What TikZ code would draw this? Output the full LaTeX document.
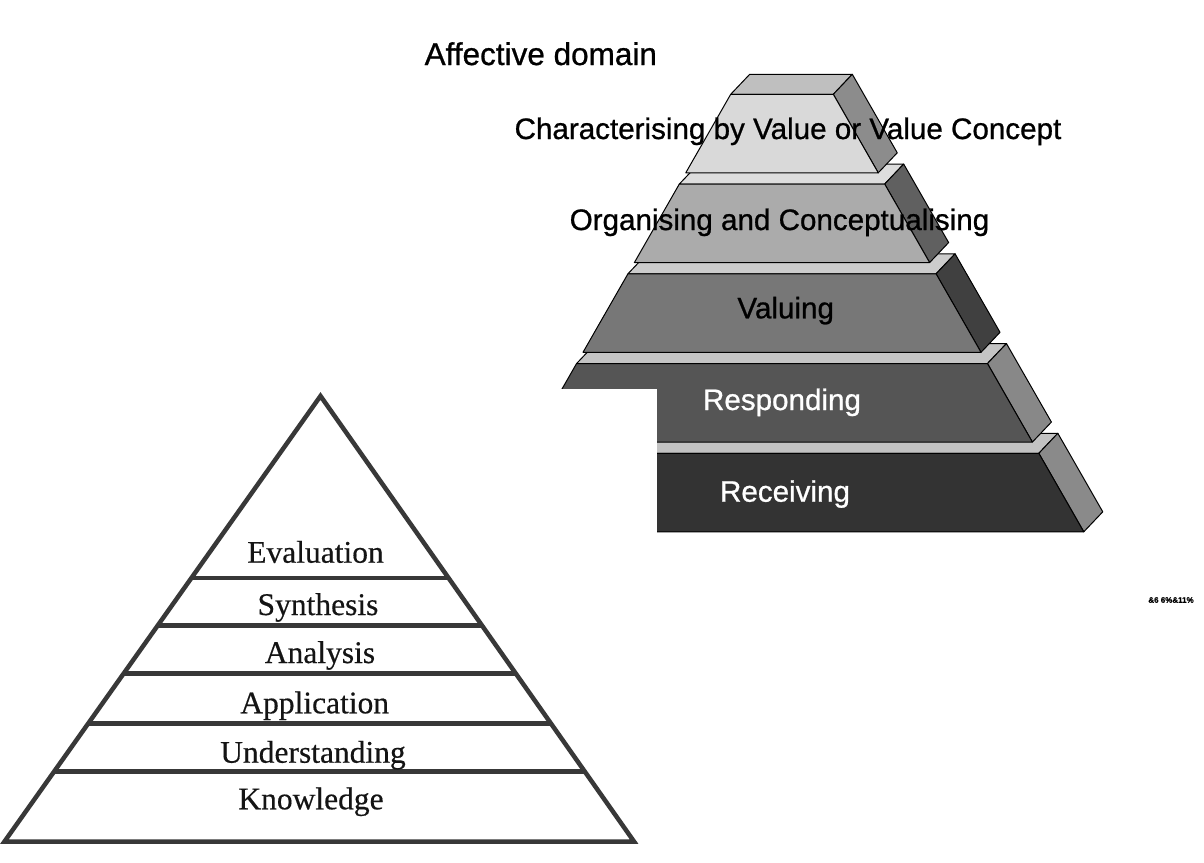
\documentclass[tikz,border=0pt]{standalone}
\usepackage{fontspec}
\setmainfont[FakeBold=0.4]{Liberation Serif}
\newfontfamily\arialf[FakeBold=0.8]{Liberation Sans}
\usetikzlibrary{calc}
\begin{document}
\begin{tikzpicture}[x=1pt,y=-1pt,
  face/.style={draw=black, line width=1pt, line join=round},
  lbl/.style={font=\arialf\fontsize{29.6}{30}\selectfont, anchor=base, inner sep=0pt},
  clbl/.style={font=\fontsize{31.5}{32}\selectfont, anchor=base, inner sep=0pt, text=black!92},
  edgeline/.style={draw=black!78, line width=4.5pt},
]
\useasboundingbox[fill=white] (0,0) rectangle (1204,862);

% ---------- right (affective) pyramid ----------
\foreach \k/\fc/\tc/\sc in {4/333333/C2C2C2/8A8A8A, 3/555555/C4C4C4/888888, 2/777777/CCCCCC/404040, 1/ABABAB/DDDDDD/606060, 0/D9D9D9/BFBFBF/8C8C8C} {
  \pgfmathsetmacro\t{94.3+89.75*\k}
  \pgfmathsetmacro\b{\t+78.5}
  \pgfmathsetmacro\rt{833.3+0.5725*(\t-94.3)}
  \pgfmathsetmacro\rb{833.3+0.5725*(\b-94.3)}
  \pgfmathsetmacro\lt{1564-\rt}
  \pgfmathsetmacro\lb{1564-\rb}
  \definecolor{fcol}{HTML}{\fc}
  \definecolor{tcol}{HTML}{\tc}
  \definecolor{scol}{HTML}{\sc}
  \path[face, fill=tcol] (\lt,\t) -- (\rt,\t) -- (\rt+19,\t-20) -- (\lt+19,\t-20) -- cycle;
  \path[face, fill=scol] (\rt,\t) -- (\rt+19,\t-20) -- (\rb+19,\b-20) -- (\rb,\b) -- cycle;
  \path[face, fill=fcol] (\lt,\t) -- (\rt,\t) -- (\rb,\b) -- (\lb,\b) -- cycle;
}
% white cut-out
\fill[white] (460,389.3) rectangle (656.5,545);

\node[lbl, font=\arialf\fontsize{31.5}{32}\selectfont] (aff) at (540.8,65) {Affective domain};
\node[lbl] (char) at (788,139) {Characterising by Value or Value Concept};
\node[lbl] (org) at (779.5,230) {Organising and Conceptualising};
\node[lbl] (val) at (785.7,318.3) {Valuing};
\node[lbl, text=white] (resp) at (782,410) {Responding};
\node[lbl, text=white] (rec) at (785,501.7) {Receiving};
\node[font=\arialf\bfseries\fontsize{8}{8}\selectfont, inner sep=0pt] (mark) at (1171,600) {\&6 6\%\&11\%};

% ---------- left (cognitive) pyramid ----------
\coordinate (apex) at (320.5,396);
\coordinate (bl) at (4.5,841.5);
\coordinate (br) at (634,841.5);
\draw[edgeline, line join=miter] (apex) -- (bl) -- (br) -- cycle;
\foreach \f in {0.4085,0.5156,0.6224,0.7347,0.8433}
  \draw[edgeline] ($(apex)!\f!(bl)$) -- ($(apex)!\f!(br)$);

\node[clbl] (eval) at (315.5,562.7) {Evaluation};
\node[clbl] (syn) at (318,615) {Synthesis};
\node[clbl] (ana) at (320,663) {Analysis};
\node[clbl] (app) at (314.7,713.3) {Application};
\node[clbl] (und) at (313,762.7) {Understanding};
\node[clbl] (know) at (311,809.3) {Knowledge};
\end{tikzpicture}
\end{document}
